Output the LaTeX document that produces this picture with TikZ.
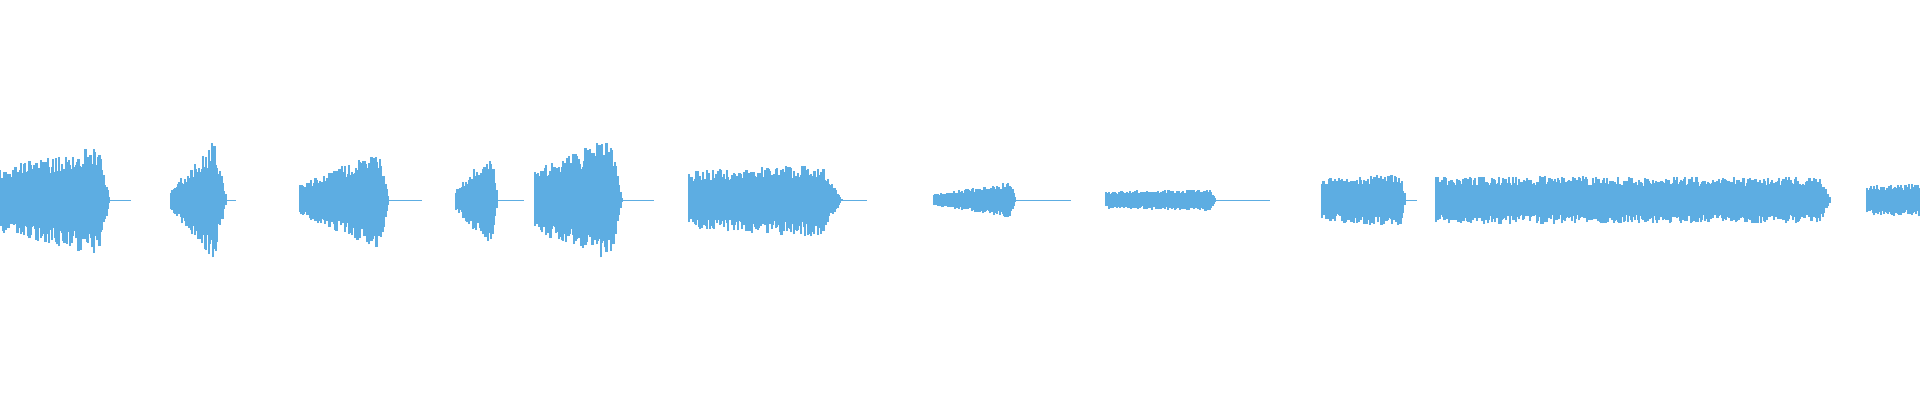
\documentclass[tikz,border=0pt]{standalone}
\definecolor{wave}{RGB}{93,173,226}
\begin{document}
\begin{tikzpicture}[wavebar/.style={wave,line width=0.022cm}]
	\useasboundingbox (0,0) rectangle (19.2,4);
	\pgfmathsetseed{7}
	% start/peak/end/base amplitude/peak amplitude/tail end
	\foreach \s/\p/\e/\b/\a/\t in {0/0.98/1.10/0.31/0.55/1.31,
		1.71/2.14/2.27/0.10/0.59/2.36, 3.0/3.80/3.89/0.15/0.49/4.22,
		4.56/4.92/4.98/0.10/0.51/5.24, 5.35/6.12/6.22/0.30/0.64/6.54,
		6.89/8.20/8.42/0.28/0.36/8.67, 9.34/10.10/10.16/0.05/0.17/10.71,
		11.06/12.10/12.16/0.08/0.10/12.70, 13.22/14.00/14.06/0.20/0.27/14.17,
		14.36/18.20/18.31/0.23/0.22/18.31, 18.67/19.20/19.30/0.14/0.16/19.3}
	{
		\draw[wave,line width=0.01cm] (\e,2) -- (\t,2);
		\pgfmathsetmacro{\xa}{\s+0.014}
		\foreach \x in {\s,\xa,...,\e}
		{
			\pgfmathsetmacro{\env}{\x<\p ? \b+(\a-\b)*(\x-\s)/(\p-\s) : \a*(\e-\x)/(\e-\p+0.001)}
			\pgfmathsetmacro{\h}{\env*(0.6+0.4*rnd)+0.01}
			\pgfmathsetmacro{\g}{\env*(0.6+0.4*rnd)+0.01}
			\draw[wavebar] (\x,2-\g) -- (\x,2+\h);
		}
	}
\end{tikzpicture}
\end{document}
